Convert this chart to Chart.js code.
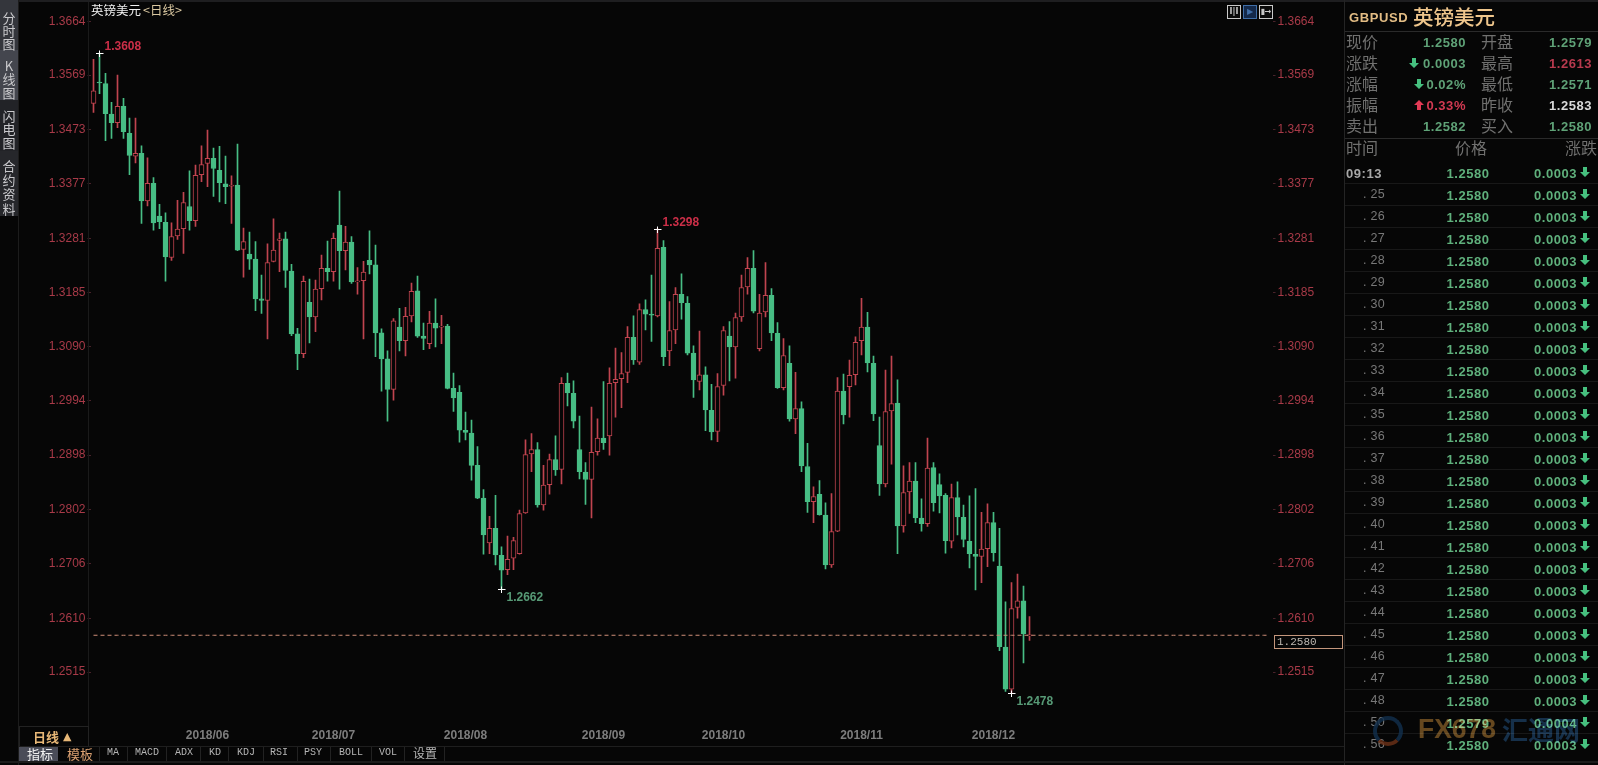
<!DOCTYPE html>
<html lang="zh"><head><meta charset="utf-8"><title>GBPUSD</title>
<script src="https://cdn.jsdelivr.net/npm/chart.js@4"></script>
<style>
html,body{margin:0;padding:0;background:#060606;width:1598px;height:765px;overflow:hidden}
#c{position:absolute;left:0;top:0}
#ui{position:absolute;left:0;top:0;width:1598px;height:765px;pointer-events:none;font-family:"Liberation Sans","Noto Sans CJK SC",sans-serif}
#ui span,#ui div{position:absolute;white-space:pre}
</style></head><body>
<canvas id="c" width="1598" height="765"></canvas><div id="ui"></div>
<script>
const opens=[1.3519,1.3556,1.3554,1.3500,1.3485,1.3514,1.3466,1.3426,1.3431,1.3347,
1.3378,1.3320,1.3309,1.3247,1.3285,1.3298,1.3337,1.3312,1.3393,1.3413,
1.3422,1.3401,1.3377,1.3373,1.3375,1.3261,1.3253,1.3244,1.3174,1.3171,
1.3240,1.3277,1.3280,1.3223,1.3112,1.3077,1.3168,1.3142,1.3192,1.3228,
1.3222,1.3304,1.3259,1.3274,1.3204,1.3206,1.3242,1.3234,1.3114,1.3068,
1.3014,1.3124,1.3100,1.3144,1.3188,1.3108,1.3095,1.3131,1.3124,1.3126,
1.3016,1.3009,1.2942,1.2937,1.2880,1.2822,1.2743,1.2769,1.2721,1.2696,
1.2716,1.2724,1.2796,1.2900,1.2908,1.2810,1.2846,1.2890,1.2873,1.3025,
1.3007,1.2908,1.2868,1.2855,1.2904,1.2928,1.2932,1.3026,1.3033,1.3044,
1.3106,1.3062,1.3155,1.3147,1.3144,1.3265,1.3082,1.3119,1.3182,1.3166,
1.3078,1.3028,1.3040,1.2977,1.2940,1.3021,1.3108,1.3089,1.3142,1.3195,
1.3228,1.3086,1.3151,1.3180,1.3113,1.3017,1.3060,1.2962,1.2980,1.2878,
1.2816,1.2829,1.2792,1.2704,1.2764,1.3011,1.3019,1.3040,1.3100,1.3124,
1.3060,1.2915,1.2847,1.2976,1.2990,1.2773,1.2833,1.2852,1.2787,1.2777,
1.2876,1.2846,1.2827,1.2746,1.2823,1.2788,1.2746,1.2723,1.2719,1.2733,
1.2779,1.2702,1.2559,1.2485,1.2629,1.2641,1.2579];
const highs=[1.3597,1.3608,1.3572,1.3521,1.3569,1.3528,1.3493,1.3493,1.3444,1.3423,
1.3388,1.3341,1.3326,1.3308,1.3348,1.3362,1.3400,1.3410,1.3444,1.3472,
1.3440,1.3443,1.3426,1.3391,1.3447,1.3299,1.3292,1.3275,1.3216,1.3271,
1.3315,1.3290,1.3292,1.3235,1.3122,1.3214,1.3209,1.3207,1.3251,1.3276,
1.3290,1.3364,1.3302,1.3284,1.3229,1.3240,1.3294,1.3269,1.3121,1.3082,
1.3139,1.3157,1.3159,1.3202,1.3214,1.3131,1.3152,1.3174,1.3145,1.3129,
1.3043,1.3021,1.2974,1.2960,1.2913,1.2837,1.2790,1.2827,1.2736,1.2755,
1.2753,1.2801,1.2925,1.2936,1.2920,1.2880,1.2900,1.2932,1.3035,1.3043,
1.3029,1.2967,1.2885,1.2983,1.2962,1.3028,1.3052,1.3087,1.3079,1.3125,
1.3144,1.3165,1.3172,1.3216,1.3298,1.3277,1.3169,1.3194,1.3218,1.3178,
1.3091,1.3117,1.3054,1.3023,1.3042,1.3125,1.3134,1.3149,1.3216,1.3247,
1.3259,1.3182,1.3238,1.3192,1.3132,1.3104,1.3091,1.3044,1.2992,1.2919,
1.2842,1.2853,1.2814,1.2830,1.3035,1.3041,1.3066,1.3107,1.3175,1.3150,
1.3073,1.2965,1.3048,1.3073,1.3031,1.2879,1.2885,1.2885,1.2821,1.2928,
1.2885,1.2865,1.2830,1.2847,1.2851,1.2810,1.2826,1.2839,1.2797,1.2812,
1.2797,1.2769,1.2639,1.2673,1.2688,1.2667,1.2613];
const lows=[1.3503,1.3536,1.3453,1.3457,1.3476,1.3457,1.3393,1.3414,1.3307,1.3338,
1.3295,1.3298,1.3205,1.3242,1.3279,1.3254,1.3295,1.3302,1.3381,1.3372,
1.3355,1.3345,1.3342,1.3307,1.3259,1.3212,1.3226,1.3153,1.3148,1.3103,
1.3239,1.3222,1.3194,1.3109,1.3049,1.3070,1.3096,1.3116,1.3172,1.3205,
1.3205,1.3191,1.3225,1.3201,1.3182,1.3103,1.3218,1.3072,1.3011,1.2958,
1.2995,1.3082,1.3073,1.3133,1.3106,1.3084,1.3086,1.3089,1.3095,1.3015,
1.2975,1.2921,1.2925,1.2854,1.2821,1.2723,1.2724,1.2704,1.2662,1.2687,
1.2696,1.2723,1.2795,1.2869,1.2806,1.2801,1.2829,1.2862,1.2847,1.2985,
1.2946,1.2856,1.2811,1.2787,1.2898,1.2908,1.2898,1.2965,1.2982,1.3026,
1.3058,1.3058,1.3119,1.3099,1.3142,1.3056,1.3056,1.3095,1.3138,1.3075,
1.3000,1.3013,1.2941,1.2925,1.2922,1.3004,1.3029,1.3034,1.3134,1.3182,
1.3149,1.3082,1.3142,1.3100,1.3016,1.3013,1.2958,1.2936,1.2869,1.2797,
1.2779,1.2792,1.2697,1.2700,1.2763,1.2953,1.2965,1.3022,1.3075,1.3045,
1.2959,1.2827,1.2842,1.2882,1.2724,1.2762,1.2795,1.2779,1.2764,1.2772,
1.2799,1.2796,1.2725,1.2734,1.2757,1.2736,1.2699,1.2660,1.2673,1.2701,
1.2711,1.2553,1.2481,1.2478,1.2610,1.2531,1.2571];
const closes=[1.3541,1.3555,1.3501,1.3485,1.3514,1.3469,1.3427,1.3431,1.3347,1.3378,
1.3308,1.3310,1.3248,1.3284,1.3297,1.3344,1.3312,1.3392,1.3411,1.3422,
1.3404,1.3379,1.3372,1.3375,1.3260,1.3275,1.3244,1.3174,1.3171,1.3238,
1.3260,1.3280,1.3224,1.3112,1.3077,1.3205,1.3142,1.3191,1.3228,1.3222,
1.3281,1.3259,1.3274,1.3204,1.3205,1.3221,1.3234,1.3114,1.3068,1.3014,
1.3135,1.3100,1.3143,1.3187,1.3108,1.3104,1.3131,1.3122,1.3125,1.3016,
1.2999,1.2942,1.2938,1.2880,1.2822,1.2757,1.2769,1.2722,1.2695,1.2714,
1.2747,1.2795,1.2899,1.2908,1.2810,1.2845,1.2890,1.2872,1.3025,1.3008,
1.2958,1.2869,1.2855,1.2903,1.2928,1.2920,1.3025,1.3032,1.3042,1.3106,
1.3066,1.3155,1.3147,1.3145,1.3263,1.3072,1.3118,1.3182,1.3167,1.3078,
1.3031,1.3040,1.2978,1.2939,1.3019,1.3118,1.3089,1.3141,1.3194,1.3228,
1.3152,1.3149,1.3180,1.3114,1.3017,1.3074,1.2962,1.2980,1.2879,1.2816,
1.2825,1.2793,1.2704,1.2763,1.3011,1.2969,1.3039,1.3097,1.3124,1.3061,
1.2971,1.2847,1.2975,1.2989,1.2773,1.2832,1.2852,1.2787,1.2777,1.2875,
1.2814,1.2826,1.2747,1.2823,1.2789,1.2749,1.2724,1.2719,1.2732,1.2779,
1.2726,1.2560,1.2485,1.2627,1.2641,1.2583,1.2580];
const yTicks=[1.3664,1.3569,1.3473,1.3377,1.3281,1.3185,1.3090,1.2994,1.2898,1.2802,1.2706,1.2610,1.2515];
const monthSlots=[19,40,62,85,105,128,150];
const monthNames=['2018/06','2018/07','2018/08','2018/09','2018/10','2018/11','2018/12'];
const peakSlots=[1,94];
const troughSlots=[68,153];
const lastPrice=1.2580;
const slotCount=197;

const quoteLabels=[['现价','开盘'],['涨跌','最高'],['涨幅','最低'],['振幅','昨收'],['卖出','买入']];
const quoteLeft=['1.2580','0.0003','0.02%','0.33%','1.2582'];
const quoteRight=['1.2579','1.2613','1.2571','1.2583','1.2580'];
const tradeTimes=['09:13','. 25','. 26','. 27','. 28','. 29','. 30','. 31','. 32','. 33','. 34','. 35','. 36','. 37','. 38','. 39','. 40','. 41','. 42','. 43','. 44','. 45','. 46','. 47','. 48','. 50','. 56'];
const tradePrices=tradeTimes.map(t=>t==='. 50'?'1.2579':'1.2580');
const tradeChanges=tradeTimes.map(t=>t==='. 50'?'0.0004':'0.0003');
const toolItems=['MA','MACD','ADX','KD','KDJ','RSI','PSY','BOLL','VOL'];

const GREEN='#47bd84',RED='#c0444f',BG='#060606',TICK='#a83a48';
const labels=Array.from({length:slotCount},(_,i)=>{const m=monthSlots.indexOf(i);return m>=0?monthNames[m]:''});
const isUp=i=>closes[i]>=opens[i];
const Y_MAX=1.36945,Y_MIN=1.24304;

const extras={id:'extras',afterDatasetsDraw(ch){
  const {ctx,scales:{x,y}}=ch;
  ctx.save();
  const mark=(i,v,top)=>{
    const px=x.getPixelForValue(i),py=Math.round(y.getPixelForValue(v))+.5;
    ctx.strokeStyle='#fff';ctx.lineWidth=1;ctx.beginPath();
    ctx.moveTo(px-3.5,py);ctx.lineTo(px+4,py);ctx.moveTo(px,py-3);ctx.lineTo(px,py+3.5);ctx.stroke();
    ctx.font='bold 12px "Liberation Sans"';ctx.textAlign='left';ctx.textBaseline='middle';
    ctx.fillStyle=top?'#cc2f48':'#579a76';
    ctx.fillText(v.toFixed(4),px+5,py+(top?-7:8));
  };
  peakSlots.forEach(i=>mark(i,highs[i],true));
  troughSlots.forEach(i=>mark(i,lows[i],false));
  const ly=Math.round(y.getPixelForValue(lastPrice));
  ctx.fillStyle=BG;ctx.fillRect(1274,ly,69,14);
  ctx.strokeStyle='#c4967c';ctx.lineWidth=1;ctx.strokeRect(1274.5,ly+.5,68,13);
  ctx.fillStyle='#bdb7b0';ctx.font='11px "Liberation Mono"';ctx.textBaseline='middle';
  ctx.fillText(lastPrice.toFixed(4),1277,ly+7.5);
  ctx.restore();
}};

const fmtTick=v=>Number(v).toFixed(4);
const setTicks=s=>{s.ticks=yTicks.map(v=>({value:v}))};
const noPad=s=>{s.paddingTop=0;s.paddingBottom=0;s.paddingLeft=0;s.paddingRight=0};
new Chart(document.getElementById('c'),{
  type:'bar',
  data:{labels,datasets:[
    {type:'bar',label:'影线',order:3,grouped:false,data:highs.map((h,i)=>[lows[i],h]),
     barThickness:1,borderWidth:0,backgroundColor:c=>isUp(c.dataIndex)?RED:GREEN},
    {type:'bar',label:'K线',order:2,grouped:false,data:opens.map((o,i)=>[o,closes[i]]),
     barThickness:5,minBarLength:1,borderWidth:1,borderSkipped:false,
     backgroundColor:c=>isUp(c.dataIndex)?BG:GREEN,
     borderColor:c=>isUp(c.dataIndex)?RED:GREEN},
    {type:'line',label:'现价',order:1,data:labels.map(()=>lastPrice),borderColor:'#cf8f78',borderWidth:1,
     borderDash:[4,3],pointRadius:0,tension:0}
  ]},
  options:{responsive:false,animation:false,
    layout:{padding:{left:0,right:0,top:4,bottom:0}},
    plugins:{legend:{display:false},tooltip:{enabled:false}},
    scales:{
      x:{type:'category',offset:true,grid:{display:false,drawTicks:false},border:{display:false},
         afterFit:s=>{noPad(s);s.height=45},
         ticks:{autoSkip:false,maxRotation:0,minRotation:0,padding:8,color:'#7d7d7d',
                font:{family:'Liberation Sans',size:12,weight:'bold'},callback:(v,i)=>labels[i]}},
      y:{position:'left',min:Y_MIN,max:Y_MAX,afterBuildTicks:setTicks,afterFit:s=>{noPad(s);s.width=90.5},
         border:{display:false},grid:{drawOnChartArea:false,drawTicks:true,tickLength:3,color:'#48222a'},
         ticks:{color:TICK,padding:2,font:{family:'Liberation Sans',size:12},callback:fmtTick}},
      yRight:{position:'right',min:Y_MIN,max:Y_MAX,afterBuildTicks:setTicks,afterFit:s=>{noPad(s);s.width=325.5},
         border:{display:false},grid:{drawOnChartArea:false,drawTicks:true,tickLength:3,color:'#48222a'},
         ticks:{color:TICK,padding:2,font:{family:'Liberation Sans',size:12},callback:fmtTick}}
    }
  },
  plugins:[extras]
});

/* ---- 界面 ---- */
const ui=document.getElementById('ui');
function T(s,x,y,st={},rightAlign=false){
  const e=document.createElement('span');e.textContent=s;
  e.style.cssText=`top:${y}px;transform:translateY(-50%);line-height:1;`+(rightAlign?`right:${1598-x}px;`:`left:${x}px;`);
  Object.assign(e.style,st);ui.appendChild(e);return e;
}
function R(x,y,w,h,bg,extra={}){
  const e=document.createElement('div');e.style.cssText=`left:${x}px;top:${y}px;width:${w}px;height:${h}px;background:${bg};`;
  Object.assign(e.style,extra);ui.appendChild(e);return e;
}
function arrow(x,y,color,up){
  const e=document.createElementNS('http://www.w3.org/2000/svg','svg');
  e.setAttribute('width','10');e.setAttribute('height','10');
  e.style.cssText=`position:absolute;left:${x}px;top:${y-5}px`;
  e.innerHTML=`<path d="${up?'M5 0L10 5L7 5L7 10L3 10L3 5L0 5Z':'M3 0L7 0L7 5L10 5L5 10L0 5L3 5Z'}" fill="${color}"/>`;
  ui.appendChild(e);
}
const CJK={fontFamily:'"Noto Sans CJK SC"'};
R(0,0,1598,2,'#1e1e20');
R(88,2,1,724,'#1a1a1a');
R(1344,0,1,765,'#242424');
/* 左侧栏 */
R(0,0,18,50,'#34363c');R(0,50,18,50,'#44464e');R(0,100,18,51,'#222327');R(0,151,18,65,'#26272b');
R(18,0,1,765,'#1c1c1c');
[['分',17],['时',30],['图',43],['K',65],['线',78],['图',92],['闪',115],['电',128],['图',142],['合',165],['约',179],['资',193],['料',208]].forEach(([c,y])=>{
  T(c,2.5,y,{...CJK,fontSize:'13px',color:'#c9c9cc',width:'13px',textAlign:'center'});
});
/* 标题 */
T('英镑美元',91,10,{...CJK,fontSize:'12.5px',color:'#f0f0f0'});
T('<日线>',143,10,{...CJK,fontSize:'12.5px',color:'#d9c7a0'});
/* 图标 */
[[1227,'#c8c8c8','#0a0a0a','I|I'],[1243,'#3f6ea8','#14294a','▶'],[1259,'#c8c8c8','#0a0a0a','▮→']].forEach(([x,bc,bg,s])=>{
  R(x,5,12,12,bg,{border:'1px solid '+bc});
  T(s,x+1,11.5,{fontSize:'8px',fontFamily:'"DejaVu Sans"',color:bc,width:'12px',textAlign:'center',fontWeight:'bold'});
});
/* 底部 */
R(19,726,68,19,'transparent',{border:'1px solid #222'});
T('日线',33,735.5,{...CJK,fontSize:'13px',fontWeight:'bold',color:'#e8b877'});
T('▲',63,736,{fontFamily:'"DejaVu Sans"',fontSize:'11px',color:'#e8b877'});
R(19,746,1325,1,'#1e1e1e');R(0,761,1598,2,'#1c1c1c');
R(19,747,39,14,'#4a4c58');
T('指标',27,753,{...CJK,fontSize:'13px',color:'#f2f2f2'});
T('模板',67,753,{...CJK,fontSize:'13px',color:'#dba171'});
const toolX=[107,135,175,209,237,270,304,339,379];
toolItems.forEach((s,i)=>T(s,toolX[i],753,{fontFamily:'"Liberation Mono"',fontSize:'10px',color:'#b5b5b5'}));
T('设置',413,753,{...CJK,fontSize:'12px',color:'#b5b5b5'});
[99,127,166,200,228,263,297,330,371,404,444].forEach(x=>R(x,747,1,14,'#222'));
/* 右侧行情 */
T('GBPUSD',1349,16.5,{fontSize:'13px',fontWeight:'bold',letterSpacing:'.6px',color:'#e2bc84'});
T('英镑美元',1413,16,{...CJK,fontSize:'20.5px',fontWeight:'500',color:'#efc68c'});
R(1345,31,253,1,'#2a2a2a');R(1345,138,253,1,'#2a2a2a');
const NUM={fontFamily:'"Liberation Sans"',fontSize:'13px',fontWeight:'bold',letterSpacing:'.55px'};
const LAB={...CJK,fontSize:'16px',color:'#70706f'};
const PG='#5fa277',PR='#d23a52',PW='#d9d9d9';
quoteLabels.forEach((p,i)=>{
  const y=43+i*21;
  T(p[0],1346,y-2,LAB);T(p[1],1481,y-2,LAB);
  T(quoteLeft[i],1466,y-1,{...NUM,color:i===3?PR:PG},true);
  T(quoteRight[i],1592,y-1,{...NUM,color:i===1?'#b83a4e':i===3?PW:PG},true);
});
arrow(1409,63,'#46c07f',false);arrow(1414,84,'#46c07f',false);arrow(1414,105,'#e23a55',true);
T('时间',1346,147,LAB);T('价格',1455,147,LAB);T('涨跌',1565,147,LAB);
tradeTimes.forEach((t,i)=>{
  const y=173+i*22;
  if(i===0)T(t,1346,y,{...NUM,color:'#a8a8a8'});
  else T(t,1363,y-1,{fontFamily:'"Liberation Sans"',fontSize:'12.5px',letterSpacing:'.3px',color:'#787878'});
  T(tradePrices[i],1489.5,y,{...NUM,color:'#5fb07c'},true);
  T(tradeChanges[i],1577,y,{...NUM,color:'#5fb07c'},true);
  arrow(1580,y-1,'#46c07f',false);
  if(i<26)R(1345,y+10,253,1,'#181818');
});
/* 水印 */
R(1373,716,22,22,'transparent',{borderRadius:'50%',border:'4px solid #12304e',borderBottomColor:'#6e3218',opacity:.8});
T('FX678',1418,729,{fontSize:'27px',fontWeight:'bold',color:'#7a5520',opacity:.8,transform:'translateY(-50%) scaleX(.98)',transformOrigin:'left center',mixBlendMode:'screen'});
T('汇通网',1502,729,{...CJK,fontSize:'26px',fontWeight:'bold',color:'#11304e',opacity:.9,mixBlendMode:'screen'});
</script></body></html>
